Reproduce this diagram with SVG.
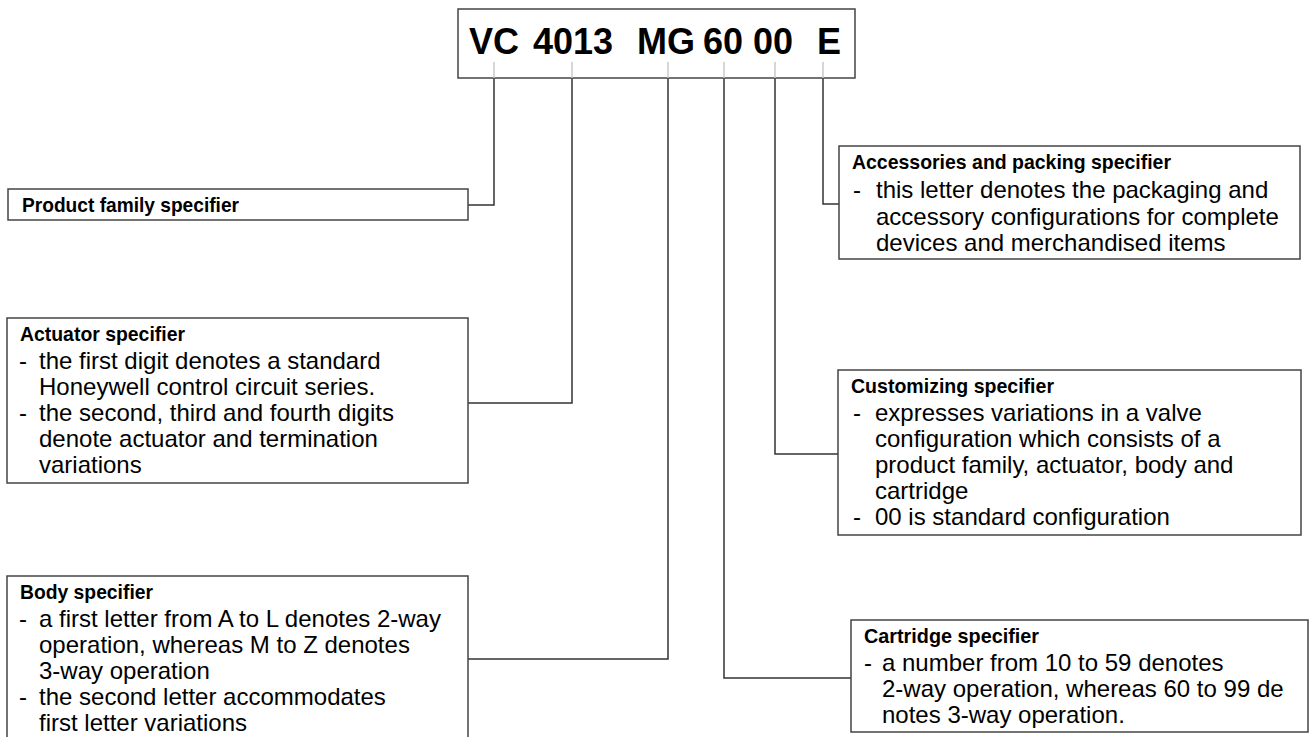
<svg xmlns="http://www.w3.org/2000/svg" width="1315" height="737" viewBox="0 0 1315 737">
<style>
.box{fill:#fff;stroke:#444;stroke-width:1.5}
.con{fill:none;stroke:#333;stroke-width:1.5}
.tick{stroke:#c8c8c8;stroke-width:1.5}
.hd{font-family:"Liberation Sans",Arial,sans-serif;font-weight:bold;font-size:21px;fill:#000}
.tx{font-family:"Liberation Sans",Arial,sans-serif;font-size:24px;fill:#000}
.code{font-family:"Liberation Sans",Arial,sans-serif;font-weight:bold;font-size:36px;fill:#000}
</style>
<rect width="1315" height="737" fill="#fff"/>
<g id="connectors">
<path class="con" d="M494,78 V205 H468"/>
<path class="con" d="M572,78 V403 H468"/>
<path class="con" d="M668,78 V659 H468"/>
<path class="con" d="M724,78 V678 H851"/>
<path class="con" d="M775,78 V454 H838"/>
<path class="con" d="M823,78 V204 H839"/>
</g>
<g id="code">
<rect class="box" x="458" y="9" width="397" height="69"/>
<line class="tick" x1="494" y1="62" x2="494" y2="78"/>
<line class="tick" x1="572" y1="62" x2="572" y2="78"/>
<line class="tick" x1="668" y1="62" x2="668" y2="78"/>
<line class="tick" x1="724" y1="62" x2="724" y2="78"/>
<line class="tick" x1="775" y1="62" x2="775" y2="78"/>
<line class="tick" x1="823" y1="62" x2="823" y2="78"/>
<text class="code" y="54"><tspan x="469">VC</tspan><tspan x="533">4013</tspan><tspan x="637">MG</tspan><tspan x="703">60</tspan><tspan x="753">00</tspan><tspan x="817">E</tspan></text>
</g>
<g id="product-family">
<rect class="box" x="8" y="189" width="460" height="31"/>
<text class="hd" x="22" y="212" textLength="217" lengthAdjust="spacingAndGlyphs">Product family specifier</text>
</g>
<g id="actuator">
<rect class="box" x="7" y="318" width="461" height="165"/>
<text class="hd" x="20" y="341" textLength="165" lengthAdjust="spacingAndGlyphs">Actuator specifier</text>
<text class="tx" x="19" y="369">-</text>
<text class="tx" x="39" y="369">the first digit denotes a standard</text>
<text class="tx" x="39" y="395">Honeywell control circuit series.</text>
<text class="tx" x="19" y="421">-</text>
<text class="tx" x="39" y="421">the second, third and fourth digits</text>
<text class="tx" x="39" y="447">denote actuator and termination</text>
<text class="tx" x="39" y="473">variations</text>
</g>
<g id="body">
<rect class="box" x="7" y="576" width="461" height="170"/>
<text class="hd" x="20" y="599" textLength="133" lengthAdjust="spacingAndGlyphs">Body specifier</text>
<text class="tx" x="19" y="627">-</text>
<text class="tx" x="39" y="627">a first letter from A to L denotes 2-way</text>
<text class="tx" x="39" y="653">operation, whereas M to Z denotes</text>
<text class="tx" x="39" y="679">3-way operation</text>
<text class="tx" x="19" y="705">-</text>
<text class="tx" x="39" y="705">the second letter accommodates</text>
<text class="tx" x="39" y="731">first letter variations</text>
</g>
<g id="accessories">
<rect class="box" x="839" y="146" width="461" height="113"/>
<text class="hd" x="852" y="169" textLength="319" lengthAdjust="spacingAndGlyphs">Accessories and packing specifier</text>
<text class="tx" x="853" y="198">-</text>
<text class="tx" x="876" y="198">this letter denotes the packaging and</text>
<text class="tx" x="876" y="225">accessory configurations for complete</text>
<text class="tx" x="876" y="251">devices and merchandised items</text>
</g>
<g id="customizing">
<rect class="box" x="838" y="370" width="463" height="165"/>
<text class="hd" x="851" y="393" textLength="203" lengthAdjust="spacingAndGlyphs">Customizing specifier</text>
<text class="tx" x="853" y="421">-</text>
<text class="tx" x="875" y="421">expresses variations in a valve</text>
<text class="tx" x="875" y="447">configuration which consists of a</text>
<text class="tx" x="875" y="473">product family, actuator, body and</text>
<text class="tx" x="875" y="499">cartridge</text>
<text class="tx" x="853" y="525">-</text>
<text class="tx" x="875" y="525">00 is standard configuration</text>
</g>
<g id="cartridge">
<rect class="box" x="851" y="620" width="457" height="112"/>
<text class="hd" x="864" y="643" textLength="175" lengthAdjust="spacingAndGlyphs">Cartridge  specifier</text>
<text class="tx" x="864" y="671">-</text>
<text class="tx" x="882" y="671">a number from 10 to 59 denotes</text>
<text class="tx" x="882" y="697">2-way operation, whereas 60 to 99 de</text>
<text class="tx" x="882" y="723">notes 3-way operation.</text>
</g>
</svg>
